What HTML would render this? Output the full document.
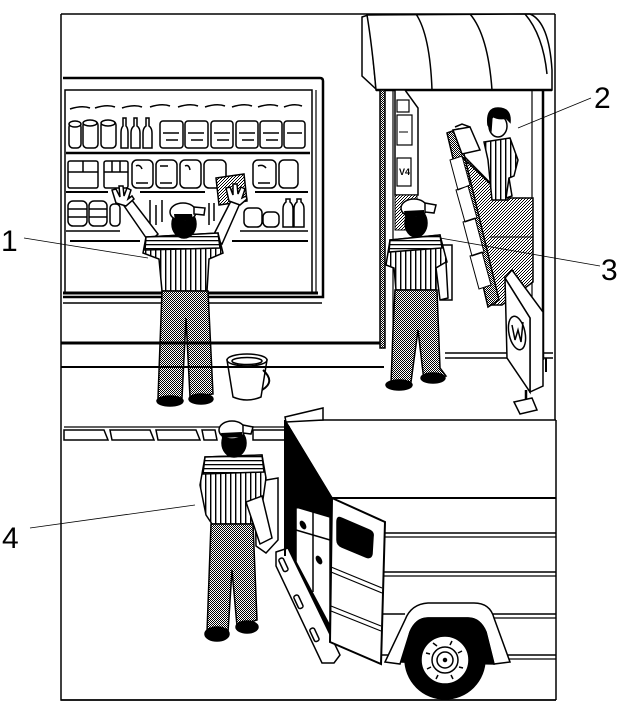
<!DOCTYPE html>
<html><head><meta charset="utf-8"><style>
html,body{margin:0;padding:0;background:#fff;}
svg{display:block;}
</style></head><body>
<svg width="640" height="710" viewBox="0 0 640 710" xmlns="http://www.w3.org/2000/svg">
<defs>
<pattern id="d2" width="2" height="2" patternUnits="userSpaceOnUse">
<rect width="2" height="2" fill="#fff"/><rect width="1" height="1" fill="#000"/><rect x="1" y="1" width="1" height="1" fill="#000"/>
</pattern>
<pattern id="d3" width="3" height="3" patternUnits="userSpaceOnUse">
<rect width="3" height="3" fill="#fff"/><rect x="0" y="0" width="1" height="1" fill="#000"/><rect x="2" y="1" width="1" height="1" fill="#000"/><rect x="1" y="2" width="1" height="1" fill="#000"/>
</pattern>
<pattern id="st" width="5" height="10" patternUnits="userSpaceOnUse">
<rect width="5" height="10" fill="#fff"/><rect width="1.4" height="10" fill="#000"/>
</pattern>
<pattern id="sh" width="10" height="4" patternUnits="userSpaceOnUse">
<rect width="10" height="4" fill="#fff"/><rect width="10" height="1.3" fill="#000"/>
</pattern>
</defs>
<rect width="640" height="710" fill="#fff"/>

<!-- frame -->
<g fill="none" stroke="#000" stroke-width="1.5">
<path d="M61,14 L555,14 M61,14 L61,700 L556,700 M555,14 L555,420 M556,420 L556,700"/>
</g>

<!-- display window -->
<g fill="none" stroke="#000">
<path d="M63,78 L320,78 Q323,78 323,81 L323,297 L63,297" stroke-width="2.5"/>
<rect x="65" y="90" width="247" height="203" stroke-width="1.5"/>
<line x1="316" y1="90" x2="316" y2="293" stroke-width="1.2"/>
<line x1="63" y1="293" x2="318" y2="293" stroke-width="3"/>
<line x1="63" y1="303" x2="322" y2="303" stroke-width="1.5"/>
<!-- shelves -->
<line x1="66" y1="153" x2="310" y2="153" stroke-width="2.5"/>
<line x1="66" y1="192" x2="108" y2="192" stroke-width="2"/>
<line x1="140" y1="192" x2="205" y2="192" stroke-width="2"/>
<line x1="255" y1="192" x2="308" y2="192" stroke-width="2"/>
<line x1="66" y1="231" x2="120" y2="231" stroke-width="1.5"/>
<line x1="240" y1="231" x2="308" y2="231" stroke-width="1.5"/>
<line x1="70" y1="241" x2="140" y2="241" stroke-width="2"/>
<line x1="232" y1="241" x2="308" y2="241" stroke-width="2"/>
</g>

<!-- products row 1 -->
<g fill="#fff" stroke="#000" stroke-width="1.5">
<path d="M70,109 q12,-4 20,-1 M95,108 q12,-4 20,-1 M122,108 q12,-4 20,-1 M150,107 q12,-4 20,-1 M178,107 q12,-4 20,-1 M205,107 q12,-4 20,-1 M232,107 q12,-4 20,-1 M258,107 q12,-4 20,-1 M284,107 q10,-4 18,-1" fill="none"/>
<rect x="69" y="123" width="12" height="25" rx="4"/><ellipse cx="75" cy="124" rx="6" ry="3"/>
<rect x="83" y="121" width="15" height="27" rx="4"/><ellipse cx="90" cy="123" rx="7" ry="3"/>
<rect x="101" y="121" width="15" height="27" rx="4"/><ellipse cx="108" cy="123" rx="7" ry="3"/>
<path d="M121,148 L121,133 Q121,128 123,126 L123,118 L126,118 L126,126 Q128,128 128,133 L128,148 Z"/>
<path d="M131,148 L131,133 Q131,128 134,126 L134,118 L137,118 L137,126 Q140,128 140,133 L140,148 Z"/>
<path d="M143,148 L143,133 Q143,128 146,126 L146,118 L149,118 L149,126 Q152,128 152,133 L152,148 Z"/>
<rect x="160" y="121" width="23" height="27" rx="3"/>
<rect x="185" y="121" width="23" height="27" rx="3"/>
<rect x="211" y="121" width="22" height="27" rx="3"/>
<rect x="236" y="121" width="22" height="27" rx="3"/>
<rect x="260" y="121" width="22" height="27" rx="3"/>
<rect x="284" y="121" width="21" height="27" rx="3"/>
<path d="M163,133 h16 M188,133 h16 M214,133 h16 M239,133 h16 M263,133 h16 M287,133 h15 M166,140 h12 M191,140 h12 M217,140 h12 M242,140 h12 M266,140 h12" fill="none"/>
</g>
<!-- products row 2 -->
<g fill="#fff" stroke="#000" stroke-width="1.5">
<rect x="68" y="161" width="30" height="27" rx="2"/><path d="M68,172 h30 M83,161 v11" fill="none"/>
<rect x="104" y="161" width="24" height="27" rx="2"/><path d="M104,172 h24 M112,161 v11 M120,161 v11" fill="none"/>
<rect x="132" y="160" width="21" height="28" rx="5"/>
<rect x="156" y="160" width="21" height="28" rx="5"/>
<rect x="180" y="160" width="21" height="28" rx="5"/>
<rect x="204" y="160" width="22" height="28" rx="5"/>
<rect x="253" y="160" width="23" height="28" rx="5"/>
<rect x="279" y="160" width="19" height="28" rx="5"/>
<path d="M136,166 q4,-2 6,3 M160,166 h8 M185,166 q4,-2 5,4 M258,166 q5,-2 8,2 M136,183 h12 M160,183 h12 M258,183 h12" fill="none"/>
<!-- cloth -->
<path d="M216,178 L244,174 L247,201 L219,205 Z" fill="url(#d3)"/>
</g>
<!-- products row 3 -->
<g fill="#fff" stroke="#000" stroke-width="1.5">
<rect x="68" y="201" width="19" height="25" rx="5"/><path d="M68,209 h19 M68,217 h19" fill="none"/>
<rect x="89" y="201" width="18" height="25" rx="5"/><path d="M89,209 h18 M89,217 h18" fill="none"/>
<rect x="110" y="204" width="10" height="22" rx="4"/>
<path d="M150,200 v26 M156,205 v20 M162,200 v22 M209,203 v22 M214,203 v18" fill="none"/>
<rect x="244" y="208" width="18" height="19" rx="5"/>
<rect x="263" y="212" width="16" height="15" rx="5"/>
<path d="M283,227 v-18 q0,-5 3,-7 v-3 h4 v3 q3,2 3,7 v18 Z"/>
<path d="M294,227 v-18 q0,-5 3,-7 v-3 h4 v3 q3,2 3,7 v18 Z"/>
</g>

<!-- figure 1 (window cleaner) -->
<g stroke="#000" stroke-width="1.5">
<path d="M149,242 L120,200 L128,195 L158,234 Z" fill="#fff"/>
<path d="M213,236 L233,197 L241,201 L222,244 Z" fill="#fff"/>
<path d="M116,203 L112,190 L116,189 L120,197 L119,186 L123,186 L124,196 L127,188 L131,190 L128,199 L132,196 L134,199 L126,206 Z" fill="#fff"/>
<path d="M229,201 L226,188 L230,187 L233,195 L233,184 L237,184 L238,194 L241,187 L245,189 L242,198 L246,196 L247,199 L240,205 Z" fill="#fff"/>
<path d="M146,237 L218,233 L223,253 L209,259 L207,291 L162,291 L159,259 L143,253 Z" fill="url(#st)"/>
<path d="M146,237 L218,233 L220,248 L145,250 Z" fill="url(#sh)"/>
<ellipse cx="184" cy="224" rx="12" ry="14" fill="#000"/>
<ellipse cx="183" cy="212" rx="13" ry="9" fill="#fff"/>
<path d="M194,207 L205,208 L204,215 L194,214 Z" fill="#fff"/>
<path d="M174,214 L192,214 L193,220 L175,221 Z" fill="#000" stroke="none"/>
<path d="M162,291 L208,291 L213,394 L190,397 L186,318 L182,398 L158,398 Z" fill="url(#d2)"/>
<ellipse cx="170" cy="401" rx="13" ry="5" fill="#000"/>
<ellipse cx="201" cy="399" rx="12" ry="5" fill="#000"/>
</g>
<!-- bucket -->
<g stroke="#000" stroke-width="1.5" fill="#fff">
<path d="M227,360 L233,397 Q247,403 261,397 L267,360 Z"/>
<ellipse cx="247" cy="360" rx="20" ry="6"/>
<ellipse cx="247" cy="361" rx="15" ry="3.5"/>
<path d="M263,370 Q276,382 262,390" fill="none" stroke-width="2"/>
</g>

<!-- sidewalk -->
<g stroke="#000" fill="none">
<line x1="61" y1="343" x2="384" y2="343" stroke-width="3"/>
<line x1="61" y1="367" x2="384" y2="367" stroke-width="2"/>
<line x1="64" y1="427" x2="290" y2="427" stroke-width="1.2"/>
<g fill="#fff" stroke-width="1.5">
<path d="M64,430 L104,430 L108,440 L64,440 Z"/>
<path d="M110,430 L150,430 L154,440 L112,440 Z"/>
<path d="M156,430 L196,430 L200,440 L158,440 Z"/>
<path d="M202,430 L215,430 L217,440 L204,440 Z"/>
<path d="M253,430 L288,430 L288,440 L253,440 Z"/>
</g>
</g>

<!-- awning -->
<g stroke="#000" stroke-width="1.5" fill="#fff">
<path d="M362,17 L368,15 Q372,45 376,89 L362,76 Z"/>
<path d="M367,15 L530,14 Q549,22 552,70 L552,90 L376,90 Q372,45 367,15 Z"/>
<path d="M416,14 Q430,35 432,90 M470,14 Q488,35 492,90 M525,14 Q543,35 547,74" fill="none"/>
<line x1="376" y1="90" x2="552" y2="90" stroke-width="2.5"/>
</g>

<!-- store -->
<g stroke="#000" fill="none">
<rect x="380" y="90" width="5" height="258" fill="url(#d2)" stroke-width="1.5"/>
<line x1="393" y1="90" x2="393" y2="362" stroke-width="1.2"/>
<line x1="532" y1="90" x2="532" y2="356" stroke-width="1.2"/>
<line x1="543" y1="90" x2="543" y2="360" stroke-width="2.5"/>
<line x1="445" y1="353" x2="553" y2="353" stroke-width="1.5"/>
<line x1="445" y1="358" x2="553" y2="358" stroke-width="1.5"/>
<line x1="546" y1="358" x2="546" y2="372" stroke-width="2"/>
<!-- rack -->
<path d="M395,90 L405,90 L418,108 L418,195 L395,195 Z" fill="#fff" stroke-width="1.5"/>
<rect x="397" y="100" width="12" height="12" fill="#fff" stroke-width="1.2"/>
<rect x="397" y="115" width="15" height="30" fill="#fff" stroke-width="1.2"/>
<line x1="399" y1="132" x2="408" y2="132"/>
<rect x="397" y="158" width="14" height="28" fill="#fff" stroke-width="1.2"/>
<text x="399" y="175" font-family="Liberation Sans, sans-serif" font-size="9" font-weight="bold" fill="#000" stroke="none">V4</text>
<rect x="395" y="195" width="22" height="35" fill="url(#d3)" stroke-width="1"/>
</g>

<!-- counter -->
<g stroke="#000" stroke-width="1.5">
<path d="M458,150 L505,198 L533,198 L533,282 L502,305 L488,305 Z" fill="url(#d3)"/>
<path d="M447,133 L458,129 L499,300 L488,307 Z" fill="url(#d2)"/>
<path d="M450,160 L462,156 L470,185 L458,190 Z M456,190 L468,186 L477,218 L465,222 Z M463,222 L475,218 L484,252 L472,256 Z M470,256 L482,252 L491,285 L479,289 Z" fill="#fff" stroke-width="1"/>
<line x1="462" y1="157" x2="505" y2="198" fill="none"/>
<line x1="490" y1="237" x2="533" y2="237" fill="none" stroke-width="1"/>
<path d="M453,130 L470,127 L480,150 L462,154 Z" fill="#fff"/>
<path d="M455,127 L462,124 L470,127" fill="none"/>
</g>

<!-- figure 2 clerk -->
<g stroke="#000" stroke-width="1.5">
<path d="M484,142 L510,138 L518,160 L514,176 L509,178 L508,200 L492,200 L488,160 Z" fill="url(#st)"/>
<path d="M509,178 L512,196 L506,198 Z" fill="#fff"/>
<ellipse cx="498" cy="126" rx="9" ry="11" fill="#fff"/>
<path d="M488,125 Q486,108 498,108 Q511,108 510,122 L506,118 Q499,120 492,116 L491,130 Z" fill="#000"/>
</g>

<!-- figure 3 -->
<g stroke="#000" stroke-width="1.5">
<rect x="441" y="245" width="11" height="55" fill="#fff"/>
<path d="M390,240 L440,235 L447,262 L436,268 L436,290 L396,290 L394,268 L386,265 Z" fill="url(#st)"/>
<path d="M390,240 L440,235 L442,248 L389,252 Z" fill="url(#sh)"/>
<path d="M436,268 L446,262 L448,298 L440,300 Z" fill="#fff"/>
<ellipse cx="416" cy="223" rx="11" ry="14" fill="#000"/>
<ellipse cx="414" cy="208" rx="13" ry="9" fill="#fff"/>
<path d="M425,203 L436,205 L434,213 L425,212 Z" fill="#fff"/>
<path d="M404,211 L424,210 L424,216 L405,217 Z" fill="#000" stroke="none"/>
<path d="M395,290 L437,290 L440,368 L446,376 L424,381 L418,330 L411,382 L391,384 L393,330 Z" fill="url(#d2)"/>
<ellipse cx="399" cy="385" rx="13" ry="5" fill="#000"/>
<ellipse cx="433" cy="378" rx="12" ry="5" fill="#000"/>
</g>

<!-- sign -->
<g stroke="#000" stroke-width="1.5" fill="#fff">
<path d="M505,278 L512,270 L543,312 L543,386 L530,392 L530,318 Z"/>
<path d="M505,278 L530,318 L530,392 L507,358 Z"/>
<ellipse cx="517" cy="333" rx="8" ry="17" transform="rotate(-12 517 333)"/>
<path d="M512,325 L515,340 L518,330 L521,342 L523,322" fill="none"/>
<line x1="526" y1="390" x2="526" y2="402" stroke-width="2.5"/>
<path d="M514,402 L532,398 L537,410 L520,414 Z"/>
</g>

<!-- figure 4 -->
<g stroke="#000" stroke-width="1.5">
<path d="M255,482 L278,478 L278,540 L266,553 L256,546 Z" fill="#fff"/>
<path d="M205,457 L262,455 L266,478 L260,520 L252,524 L212,524 L206,515 L200,485 Z" fill="url(#st)"/>
<path d="M205,457 L262,455 L264,472 L203,474 Z" fill="url(#sh)"/>
<path d="M246,502 L262,496 L272,538 L260,544 Z" fill="#fff"/>
<ellipse cx="234" cy="443" rx="12" ry="14" fill="#000"/>
<ellipse cx="232" cy="430" rx="13" ry="9" fill="#fff"/>
<path d="M243,425 L253,427 L251,434 L243,433 Z" fill="#fff"/>
<path d="M221,433 L242,432 L242,437 L222,438 Z" fill="#000" stroke="none"/>
<path d="M211,524 L253,524 L257,620 L237,626 L232,570 L228,632 L207,632 Z" fill="url(#d2)"/>
<ellipse cx="217" cy="634" rx="12" ry="7" fill="#000"/>
<ellipse cx="247" cy="627" rx="11" ry="6" fill="#000"/>
</g>

<!-- truck -->
<g stroke="#000" stroke-width="1.5">
<path d="M285,420 L556,420" fill="none"/>
<path d="M285,417 L323,408 L323,420 L286,422 Z" fill="#fff"/>
<path d="M286,422 L332,498 L332,640 L291,560 L286,556 Z" fill="#000"/>
<path d="M296,507 L330,517 L330,626 L296,562 Z" fill="#fff"/>
<path d="M313,512 L313,592 M296,530 L313,535 M313,535 L330,540" fill="none"/>
<ellipse cx="303" cy="525" rx="2" ry="4" fill="#000" transform="rotate(-30 303 525)"/>
<ellipse cx="319" cy="560" rx="2" ry="4" fill="#000" transform="rotate(-30 319 560)"/>
<path d="M276,552 L288,548 L340,655 L334,663 L322,663 L276,566 Z" fill="#fff"/>
<rect x="281" y="558" width="5" height="14" rx="2" fill="#fff" transform="rotate(-25 283 565)"/>
<rect x="296" y="595" width="5" height="14" rx="2" fill="#fff" transform="rotate(-25 298 602)"/>
<rect x="312" y="628" width="5" height="14" rx="2" fill="#fff" transform="rotate(-25 314 635)"/>
<line x1="285" y1="420" x2="285" y2="556" fill="none" stroke-width="2"/>
<line x1="286" y1="422" x2="332" y2="498" fill="none" stroke-width="1.5"/>
<!-- side lines -->
<g fill="none">
<line x1="332" y1="498" x2="556" y2="498" stroke-width="2"/>
<line x1="385" y1="533" x2="556" y2="533" stroke-width="1.5"/>
<line x1="385" y1="537" x2="556" y2="537" stroke-width="1.2"/>
<line x1="382" y1="572" x2="556" y2="572" stroke-width="1.5"/>
<line x1="382" y1="576" x2="556" y2="576" stroke-width="1.2"/>
<line x1="381" y1="614" x2="405" y2="614" stroke-width="1.5"/>
<line x1="490" y1="614" x2="556" y2="614" stroke-width="1.5"/>
<line x1="490" y1="618" x2="556" y2="618" stroke-width="1.2"/>
<line x1="381" y1="655" x2="392" y2="655" stroke-width="1.5"/>
<line x1="505" y1="655" x2="556" y2="655" stroke-width="1.5"/>
<line x1="505" y1="659" x2="556" y2="659" stroke-width="1.2"/>
</g>
<!-- door -->
<path d="M332,498 L385,522 L381,664 L330,642 Z" fill="#fff" stroke-width="2"/>
<path d="M341,518 L369,530 Q374,532 373,537 L372,554 Q371,559 366,557 L342,547 Q337,545 337,540 L337,522 Q337,516 341,518 Z" fill="#000"/>
<path d="M331,567 L382,588 M331,572 L382,593 M331,606 L381,626 M331,611 L381,631" fill="none" stroke-width="1.2"/>
<!-- fender & wheel -->
<path d="M385,662 L405,620 Q411,604 428,603 L474,603 Q490,603 494,618 L510,662 L494,664 L486,632 Q480,618 468,618 L428,618 Q416,618 410,632 L400,664 Z" fill="#fff"/>
<path d="M402,662 L410,632 Q416,618 428,618 L468,618 Q480,618 486,632 L494,664 Z" fill="#000"/>
<circle cx="445" cy="659" r="40" fill="#000"/>
<circle cx="445" cy="660" r="24" fill="#fff"/>
<circle cx="445" cy="660" r="13" fill="none"/>
<circle cx="445" cy="660" r="8" fill="none"/>
<circle cx="445" cy="660" r="1.5" fill="#000"/>
<path d="M433,643 l4,3 M452,641 l-2,4 M462,651 l-4,2 M463,668 l-4,-1 M453,679 l-2,-4 M436,679 l2,-4 M427,669 l4,-2 M426,653 l4,1" fill="none" stroke-width="1.5"/>
</g>
<line x1="61" y1="700" x2="556" y2="700" stroke="#000" stroke-width="1.5"/>

<!-- leaders -->
<g stroke="#000" stroke-width="0.8" fill="none">
<line x1="24" y1="238" x2="148" y2="258"/>
<line x1="591" y1="98" x2="518" y2="128"/>
<line x1="600" y1="266" x2="440" y2="238"/>
<line x1="30" y1="528" x2="195" y2="505"/>
</g>
<!-- labels -->
<g font-family="Liberation Sans, sans-serif" font-size="30" fill="#000">
<text x="1" y="251">1</text>
<text x="594" y="108">2</text>
<text x="601" y="280">3</text>
<text x="2" y="548">4</text>
</g>
</svg>
</body></html>
